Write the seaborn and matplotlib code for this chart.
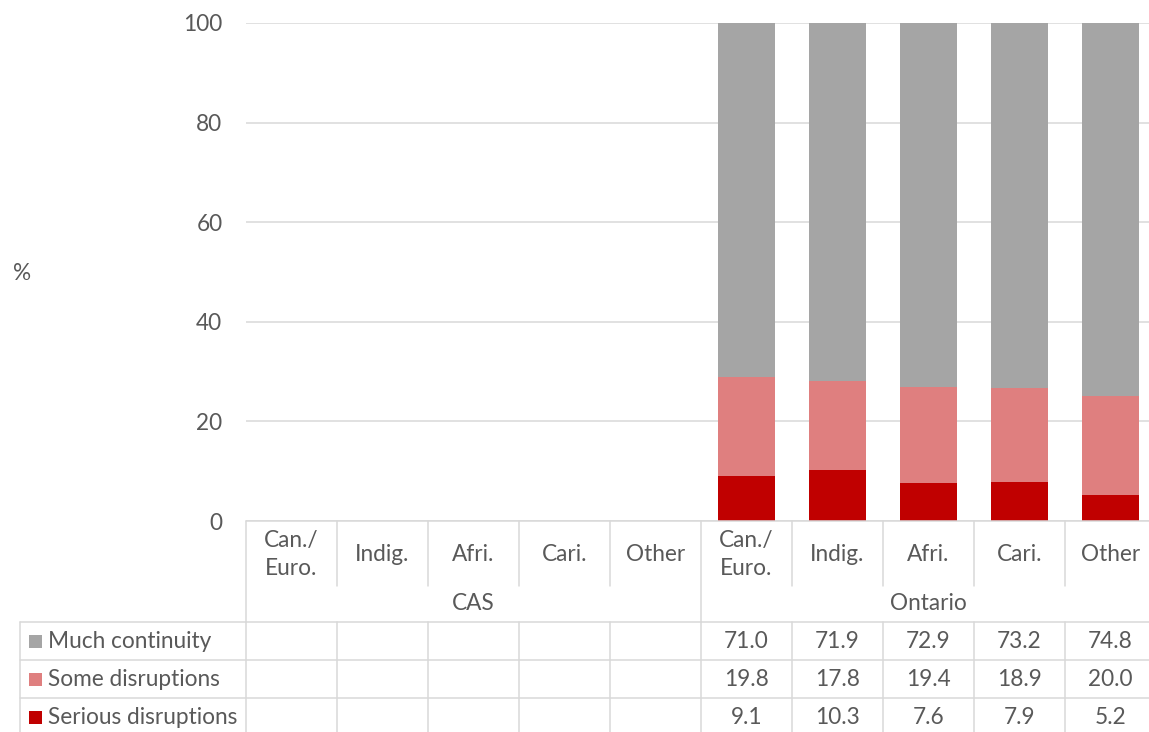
import numpy as np
import pandas as pd
import matplotlib.pyplot as plt
import matplotlib.transforms as mtransforms
import seaborn as sns

# values; the CAS columns are empty in the original
regions = ["CAS", "Ontario"]
ethnicity = ["Can./\nEuro.", "Indig.", "Afri.", "Cari.", "Other"]
series = ["Much continuity", "Some disruptions", "Serious disruptions"]
much_continuity = [np.nan] * 5 + [71.0, 71.9, 72.9, 73.2, 74.8]
some_disruptions = [np.nan] * 5 + [19.8, 17.8, 19.4, 18.9, 20.0]
serious_disruptions = [np.nan] * 5 + [9.1, 10.3, 7.6, 7.9, 5.2]

colors = ["#A5A5A5", "#DF7F7F", "#C00000"]
txt = "#595959"
line_c = "#D9D9D9"

sns.set_style("white")
plt.rcParams['font.family'] = ['Lato', 'DejaVu Sans']
FS = 16.3

df = pd.DataFrame({
    "region": [r for r in regions for _ in ethnicity],
    "eth": ethnicity * len(regions),
    "much": much_continuity,
    "some": some_disruptions,
    "serious": serious_disruptions,
})
df["key"] = df["region"] + " " + df["eth"]
# cumulative tops, drawn back to front
df["top_much"] = df["much"] + df["some"] + df["serious"]
df["top_some"] = df["some"] + df["serious"]
df["top_serious"] = df["serious"]
order = list(df["key"])

W, H = 1149, 732
fig = plt.figure(figsize=(W / 100, H / 100), dpi=100)
# plot area in pixels (left, top, right, bottom)
pl, pt, pr, pb = 246, 23, 1156, 521
ax = fig.add_axes([pl / W, 1 - pb / H, (pr - pl) / W, (pb - pt) / H])

for col, c in zip(["top_much", "top_some", "top_serious"], colors):
    sns.barplot(data=df, x="key", y=col, order=order, color=c, width=0.63,
                errorbar=None, saturation=1, linewidth=0, ax=ax)

ax.set_xlim(-0.5, len(order) - 0.5)
ax.set_ylim(0, 100)
ax.set_yticks(range(0, 101, 20))
ax.yaxis.grid(True, color=line_c, linewidth=1.1)
ax.set_axisbelow(True)
ax.tick_params(axis='y', length=0, pad=17, labelsize=FS, labelcolor=txt)
ax.set_xticks([])
ax.set_xlabel("")
ax.set_ylabel("")
for s in ax.spines.values():
    s.set_visible(False)

# overlay in pixel coordinates for the data table
ov = fig.add_axes([0, 0, 1, 1])
ov.set_xlim(0, W)
ov.set_ylim(H, 0)
ov.axis("off")
ov.patch.set_visible(False)
tr = mtransforms.blended_transform_factory(ax.transData, ov.transData)

n = len(order)
lw = 1.1
y_axis, y_cat, y_grp, row_h = 521, 586, 622, 38
y_bottom = y_grp + row_h * len(series)

# horizontal lines
ov.plot([-0.5, n - 0.5], [y_axis, y_axis], color=line_c, lw=lw, transform=tr)
for k in range(len(series) + 1):
    y = y_grp + k * row_h
    ov.plot([20, pr], [y, y], color=line_c, lw=lw)
ov.plot([20, 20], [y_grp, y_bottom], color=line_c, lw=lw)

# vertical lines
for k in range(n + 1):
    x = k - 0.5
    top_end = y_grp if k % len(ethnicity) == 0 else y_cat
    ov.plot([x, x], [y_axis, top_end], color=line_c, lw=lw, transform=tr)
    ov.plot([x, x], [y_grp, y_bottom], color=line_c, lw=lw, transform=tr)

# category and group labels
for i, row in df.iterrows():
    ov.text(i, (y_axis + y_cat) / 2 + 1, row["eth"], ha="center", va="center",
            fontsize=FS, color=txt, linespacing=1.45, transform=tr)
for j, r in enumerate(regions):
    xc = j * len(ethnicity) + (len(ethnicity) - 1) / 2
    ov.text(xc, (y_cat + y_grp) / 2, r, ha="center", va="center",
            fontsize=FS, color=txt, transform=tr)

# table rows
vals = [much_continuity, some_disruptions, serious_disruptions]
for k, (name, c, v) in enumerate(zip(series, colors, vals)):
    yc = y_grp + k * row_h + row_h / 2
    ov.add_patch(plt.Rectangle((29, yc - 6.5), 13, 13, color=c, lw=0))
    ov.text(48, yc, name, ha="left", va="center", fontsize=FS, color=txt)
    for i, val in enumerate(v):
        if not np.isnan(val):
            ov.text(i, yc, f"{val:.1f}", ha="center", va="center",
                    fontsize=FS, color=txt, transform=tr)

ov.text(13, 273, "%", ha="left", va="center", fontsize=FS, color=txt)

fig.savefig("out.png", dpi=100)
